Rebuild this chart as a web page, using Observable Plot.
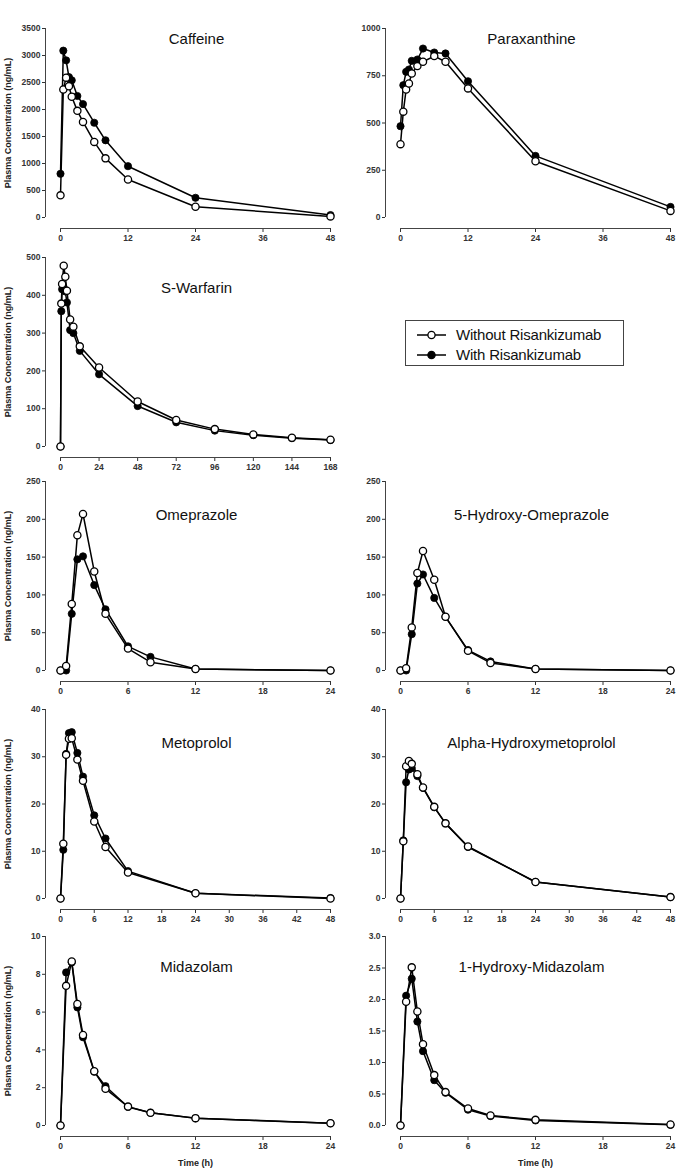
<!DOCTYPE html>
<html>
<head>
<meta charset="utf-8">
<script src="https://cdn.jsdelivr.net/npm/d3@7"></script>
<script src="https://cdn.jsdelivr.net/npm/@observablehq/plot@0.6"></script>
<style>
  body { margin: 0; background: #fff; }
  #chart { position: relative; width: 685px; height: 1172px; overflow: hidden; font-family: Arial, "Liberation Sans", sans-serif; }
  .panel { position: absolute; }
  #legend { position: absolute; left: 405px; top: 320px; width: 217px; height: 44px; border: 1px solid #444; background: #fff; }
  #legend .item { position: absolute; left: 0; height: 20px; width: 217px; }
  #legend svg { position: absolute; left: 10px; top: 0; }
  #legend span { position: absolute; left: 50px; top: 1px; font-size: 15px; line-height: 18px; color: #111; letter-spacing: -0.2px; white-space: nowrap; }
</style>
</head>
<body>
<div id="chart"></div>
<script>
// ---------- data ----------
const seriesNames = ["Without Risankizumab", "With Risankizumab"];

const caffeineTime = [0, 0.5, 1, 1.5, 2, 3, 4, 6, 8, 12, 24, 48];
const caffeineWithout = [410, 2370, 2590, 2430, 2235, 1975, 1770, 1400, 1095, 705, 200, 20];
const caffeineWith = [810, 3090, 2910, 2600, 2540, 2250, 2100, 1755, 1430, 950, 365, 45];

const paraxanthineTime = [0, 0.5, 1, 1.5, 2, 3, 4, 6, 8, 12, 24, 48];
const paraxanthineWithout = [388, 560, 677, 709, 762, 801, 824, 854, 824, 683, 298, 35];
const paraxanthineWith = [483, 700, 771, 783, 829, 836, 894, 873, 868, 721, 326, 56];

const warfarinTime = [0, 0.5, 1, 2, 3, 4, 6, 8, 12, 24, 48, 72, 96, 120, 144, 168];
const warfarinWithout = [0, 378, 430, 478, 449, 412, 336, 317, 265, 209, 119, 70, 46, 32, 23, 18];
const warfarinWith = [0, 358, 416, 420, 410, 381, 308, 300, 253, 191, 107, 64, 42, 30, 22, 17];

const omeprazoleTime = [0, 0.5, 1, 1.5, 2, 3, 4, 6, 8, 12, 24];
const omeprazoleWithout = [0, 6, 88, 179, 207, 131, 75, 29, 11, 2, 0];
const omeprazoleWith = [0, 0, 75, 147, 151, 113, 81, 32, 18, 2, 0];

const ohOmeprazoleTime = [0, 0.5, 1, 1.5, 2, 3, 4, 6, 8, 12, 24];
const ohOmeprazoleWithout = [0, 3, 57, 129, 158, 120, 71, 26, 10, 2, 0];
const ohOmeprazoleWith = [0, 0, 48, 115, 127, 96, 71, 27, 12, 2, 0];

const metoprololTime = [0, 0.5, 1, 1.5, 2, 3, 4, 6, 8, 12, 24, 48];
const metoprololWithout = [0, 11.6, 30.4, 33.8, 33.9, 29.4, 24.9, 16.3, 10.9, 5.5, 1.1, 0];
const metoprololWith = [0, 10.3, 30.6, 35.0, 35.2, 30.8, 25.8, 17.6, 12.7, 5.8, 1.1, 0.1];

const alphaTime = [0, 0.5, 1, 1.5, 2, 3, 4, 6, 8, 12, 24, 48];
const alphaWithout = [0, 12.1, 28.0, 29.1, 28.5, 26.3, 23.5, 19.4, 15.9, 11.0, 3.5, 0.3];
const alphaWith = [0, 12.3, 24.6, 27.3, 27.6, 25.9, 23.4, 19.3, 15.9, 10.9, 3.5, 0.3];

const midazolamTime = [0, 0.5, 1, 1.5, 2, 3, 4, 6, 8, 12, 24];
const midazolamWithout = [0, 7.39, 8.68, 6.43, 4.79, 2.87, 1.94, 1.0, 0.67, 0.39, 0.12];
const midazolamWith = [0, 8.1, 8.63, 6.25, 4.67, 2.85, 2.08, 0.98, 0.67, 0.38, 0.12];

const ohMidazolamTime = [0, 0.5, 1, 1.5, 2, 3, 4, 6, 8, 12, 24];
const ohMidazolamWithout = [0, 1.965, 2.51, 1.81, 1.29, 0.80, 0.53, 0.27, 0.16, 0.09, 0.015];
const ohMidazolamWith = [0, 2.06, 2.33, 1.65, 1.18, 0.72, 0.52, 0.25, 0.15, 0.08, 0.01];

// tick labels
const xTicks48coarse = [0, 12, 24, 36, 48];
const xTicks48fine = [0, 6, 12, 18, 24, 30, 36, 42, 48];
const xTicks168 = [0, 24, 48, 72, 96, 120, 144, 168];
const xTicks24 = [0, 6, 12, 18, 24];
const yTicksCaffeine = [0, 500, 1000, 1500, 2000, 2500, 3000, 3500];
const yTicksParaxanthine = [0, 250, 500, 750, 1000];
const yTicksWarfarin = [0, 100, 200, 300, 400, 500];
const yTicksOmeprazole = [0, 50, 100, 150, 200, 250];
const yTicksMetoprolol = [0, 10, 20, 30, 40];
const yTicksMidazolam = [0, 2, 4, 6, 8, 10];
const yTicksOhMidazolam = [0, 0.5, 1.0, 1.5, 2.0, 2.5, 3.0];

const yAxisTitle = "Plasma Concentration (ng/mL)";
const xAxisTitle = "Time (h)";

// ---------- layout ----------
const rowTops = [28, 257, 481, 709, 936];
const titleOffsets = [11, 31, 34, 34, 31];
const FONT = "Arial, 'Liberation Sans', sans-serif";
const INSET_L = 15, INSET_B = 11, MT = 10, FRAME_H = 200;

const panels = [
  {name: "Caffeine", time: caffeineTime, without: caffeineWithout, with: caffeineWith, xTicks: xTicks48coarse, yTicks: yTicksCaffeine, row: 0, col: 0},
  {name: "Paraxanthine", time: paraxanthineTime, without: paraxanthineWithout, with: paraxanthineWith, xTicks: xTicks48coarse, yTicks: yTicksParaxanthine, row: 0, col: 1},
  {name: "S-Warfarin", time: warfarinTime, without: warfarinWithout, with: warfarinWith, xTicks: xTicks168, yTicks: yTicksWarfarin, row: 1, col: 0},
  {name: "Omeprazole", time: omeprazoleTime, without: omeprazoleWithout, with: omeprazoleWith, xTicks: xTicks24, yTicks: yTicksOmeprazole, row: 2, col: 0},
  {name: "5-Hydroxy-Omeprazole", time: ohOmeprazoleTime, without: ohOmeprazoleWithout, with: ohOmeprazoleWith, xTicks: xTicks24, yTicks: yTicksOmeprazole, row: 2, col: 1},
  {name: "Metoprolol", time: metoprololTime, without: metoprololWithout, with: metoprololWith, xTicks: xTicks48fine, yTicks: yTicksMetoprolol, row: 3, col: 0},
  {name: "Alpha-Hydroxymetoprolol", time: alphaTime, without: alphaWithout, with: alphaWith, xTicks: xTicks48fine, yTicks: yTicksMetoprolol, row: 3, col: 1},
  {name: "Midazolam", time: midazolamTime, without: midazolamWithout, with: midazolamWith, xTicks: xTicks24, yTicks: yTicksMidazolam, row: 4, col: 0},
  {name: "1-Hydroxy-Midazolam", time: ohMidazolamTime, without: ohMidazolamWithout, with: ohMidazolamWith, xTicks: xTicks24, yTicks: yTicksOhMidazolam, yFormat: d3.format(".1f"), row: 4, col: 1}
];

const chart = document.getElementById("chart");

function makePanel(p) {
  const last = p.row === 4;
  const MB = last ? 34 : 20;
  const xmin = p.xTicks[0], xmax = p.xTicks[p.xTicks.length - 1];
  const ymin = p.yTicks[0], ymax = p.yTicks[p.yTicks.length - 1];
  const wo = p.time.map((t, i) => ({t, c: p.without[i]}));
  const wi = p.time.map((t, i) => ({t, c: p.with[i]}));

  const marks = [
    // detached axis lines spanning the domain only
    Plot.ruleY([ymin], {x1: () => xmin, x2: () => xmax, dy: INSET_B, stroke: "#444", strokeWidth: 1}),
    Plot.ruleX([xmin], {y1: () => ymin, y2: () => ymax, dx: -INSET_L, stroke: "#444", strokeWidth: 1}),
    // with (filled)
    Plot.line(wi, {x: "t", y: "c", stroke: "#000", strokeWidth: 1.5}),
    Plot.dot(wi, {x: "t", y: "c", r: 3.6, fill: "#000", stroke: "#000", strokeWidth: 0.8}),
    // without (open)
    Plot.line(wo, {x: "t", y: "c", stroke: "#000", strokeWidth: 1.5}),
    Plot.dot(wo, {x: "t", y: "c", r: 3.6, fill: "#fff", stroke: "#000", strokeWidth: 1.3}),
    // panel title
    Plot.text([p.name], {text: d => d, frameAnchor: "top", textAnchor: "middle", dx: p.col === 0 ? 8.5 : 3.5, dy: titleOffsets[p.row],
      lineAnchor: "middle", fontSize: 15, fontWeight: "normal", fill: "#111", fontFamily: FONT})
  ];
  if (p.col === 0) {
    marks.push(Plot.text([yAxisTitle], {text: d => d, frameAnchor: "left", textAnchor: "middle", lineAnchor: "middle",
      rotate: -90, dx: -37, dy: -5.5, fontSize: 9, fontWeight: "bold", fill: "#222", fontFamily: FONT}));
  }
  if (last) {
    marks.push(Plot.text([xAxisTitle], {text: d => d, frameAnchor: "bottom", textAnchor: "middle", dx: 7.5, dy: 27, lineAnchor: "middle",
      fontSize: 9, fontWeight: "bold", fill: "#222", fontFamily: FONT}));
  }

  const svg = Plot.plot({
    width: 345,
    height: MT + FRAME_H + MB,
    marginLeft: 45,
    marginRight: 15,
    marginTop: MT,
    marginBottom: MB,
    x: {domain: [xmin, xmax], insetLeft: INSET_L, ticks: p.xTicks, tickSize: 4, tickPadding: 2, label: null, tickFormat: d3.format("d")},
    y: {domain: [ymin, ymax], insetBottom: INSET_B, ticks: p.yTicks, tickSize: 3, tickPadding: 2, label: null,
        tickFormat: p.yFormat || d3.format("d")},
    style: {fontFamily: FONT, fontSize: "8.5px", fontWeight: "bold", color: "#333", background: "transparent", overflow: "visible"},
    marks
  });
  svg.classList.add("panel");
  svg.style.left = (p.col * 340) + "px";
  svg.style.top = (rowTops[p.row] - MT) + "px";
  chart.appendChild(svg);
}

panels.forEach(makePanel);

// ---------- legend ----------
const legend = document.createElement("div");
legend.id = "legend";
seriesNames.forEach((name, i) => {
  const item = document.createElement("div");
  item.className = "item";
  item.style.top = (4 + i * 20) + "px";
  const filled = i === 1;
  item.innerHTML =
    `<svg width="32" height="20"><line x1="1" y1="10" x2="30" y2="10" stroke="#000" stroke-width="1.5"/>` +
    `<circle cx="15.5" cy="10" r="3.6" fill="${filled ? "#000" : "#fff"}" stroke="#000" stroke-width="1.3"/></svg>` +
    `<span>${name}</span>`;
  legend.appendChild(item);
});
chart.appendChild(legend);
</script>
</body>
</html>
